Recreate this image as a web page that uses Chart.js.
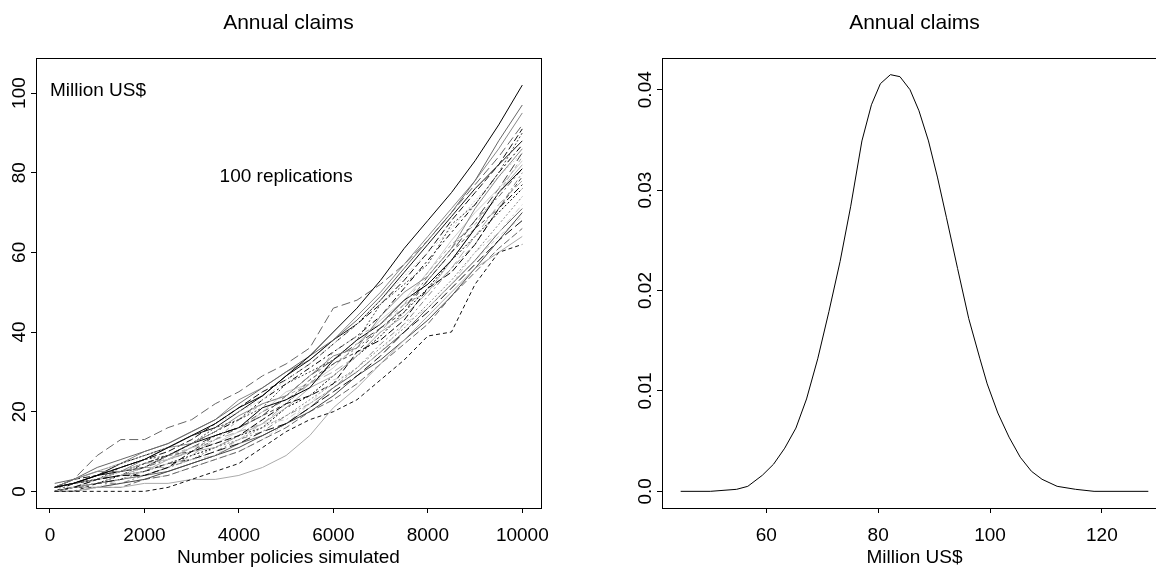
<!DOCTYPE html>
<html>
<head>
<meta charset="utf-8">
<script src="https://cdn.jsdelivr.net/npm/chart.js@4"></script>
<style>
  html, body { margin: 0; padding: 0; background: #fff; overflow: hidden; width: 1156px; height: 569px; }
  canvas { position: absolute; top: 0; }
  #left { left: 0; }
  #right { left: 578px; }
</style>
</head>
<body>
<canvas id="left" width="578" height="569"></canvas>
<canvas id="right" width="600" height="569"></canvas>
<script>
// left panel: cumulative claims, every 500 policies
const policies = [100, 500, 1000, 1500, 2000, 2500, 3000, 3500, 4000, 4500, 5000,
  5500, 6000, 6500, 7000, 7500, 8000, 8500, 9000, 9500, 10000];

const replications = [
  [1, 2, 4, 6, 8, 11, 14, 17, 21, 24, 29, 34, 40, 46, 53, 61, 68, 75, 83, 92, 102],
  [1, 3, 9, 13, 13, 16, 18, 22, 25, 29, 32, 36, 46, 48, 52, 57, 63, 70, 77, 84, 92],
  [0, 0, 0, 0, 0, 1, 3, 5, 7, 11, 15, 18, 20, 23, 28, 33, 39, 40, 52, 60, 62],
  [0, 0, 1, 1, 2, 2, 3, 3, 4, 6, 9, 14, 21, 26, 32, 38, 44, 50, 56, 60, 64],
  [1, 2, 3, 6, 8, 9, 12, 16, 18, 21, 27, 30, 33, 38, 47, 52, 57, 67, 72, 80, 90],
  [0, 1, 1, 3, 5, 7, 8, 9, 13, 17, 18, 22, 28, 30, 35, 42, 46, 52, 60, 65, 72],
  [1, 3, 5, 5, 8, 11, 12, 15, 19, 22, 24, 29, 34, 36, 44, 50, 54, 61, 71, 79, 86],
  [0, 1, 3, 4, 4, 6, 10, 12, 14, 18, 22, 24, 27, 35, 38, 43, 51, 55, 62, 71, 77],
  [2, 3, 6, 8, 10, 12, 15, 18, 22, 26, 30, 34, 38, 43, 49, 56, 63, 70, 78, 88, 97],
  [0, 0, 2, 3, 5, 7, 8, 10, 12, 15, 17, 21, 25, 29, 34, 40, 45, 51, 57, 63, 68],
  [1, 2, 3, 5, 6, 9, 11, 13, 18, 22, 24, 27, 35, 39, 42, 47, 55, 62, 67, 75, 84],
  [0, 1, 1, 2, 3, 5, 7, 9, 11, 14, 17, 20, 24, 29, 33, 38, 43, 49, 56, 63, 70],
  [1, 3, 5, 7, 9, 11, 14, 17, 20, 23, 28, 32, 37, 42, 48, 54, 60, 66, 73, 79, 85],
  [0, 1, 2, 2, 4, 6, 8, 10, 13, 15, 19, 22, 26, 31, 37, 42, 49, 56, 62, 71, 80],
  [1, 2, 4, 5, 6, 9, 12, 14, 16, 21, 23, 26, 33, 38, 42, 48, 52, 58, 66, 75, 81],
  [0, 0, 1, 1, 3, 4, 6, 8, 10, 13, 16, 20, 23, 27, 32, 37, 42, 49, 55, 61, 66],
  [1, 2, 4, 7, 9, 11, 14, 16, 20, 24, 29, 33, 38, 42, 48, 55, 62, 69, 76, 82, 88],
  [0, 1, 2, 4, 6, 6, 9, 13, 15, 17, 22, 27, 30, 34, 40, 47, 50, 56, 64, 72, 78],
  [1, 2, 3, 4, 7, 9, 10, 14, 16, 19, 22, 28, 32, 35, 41, 45, 53, 60, 66, 71, 79],
  [0, 1, 3, 5, 7, 8, 11, 12, 15, 20, 25, 27, 31, 37, 43, 48, 55, 63, 70, 76, 83],
  [1, 1, 2, 3, 4, 6, 8, 11, 13, 16, 19, 23, 27, 31, 36, 41, 47, 53, 60, 67, 74],
  [0, 2, 3, 5, 7, 9, 12, 15, 18, 23, 27, 31, 35, 39, 44, 51, 58, 65, 72, 80, 87],
  [0, 1, 2, 3, 4, 5, 7, 9, 12, 14, 17, 21, 26, 30, 35, 40, 46, 52, 58, 65, 71],
  [1, 3, 4, 6, 8, 10, 13, 17, 21, 25, 28, 32, 37, 42, 47, 53, 60, 68, 75, 82, 91],
  [0, 1, 3, 4, 5, 8, 10, 11, 14, 17, 21, 26, 29, 34, 40, 44, 50, 58, 66, 75, 82],
  [1, 2, 3, 5, 7, 8, 11, 14, 16, 19, 24, 29, 33, 37, 41, 46, 53, 60, 68, 76, 85],
  [0, 0, 1, 2, 3, 4, 6, 8, 10, 13, 17, 22, 26, 30, 35, 40, 46, 52, 58, 64, 69],
  [1, 3, 5, 7, 10, 12, 15, 18, 23, 26, 30, 33, 38, 44, 50, 57, 64, 71, 78, 86, 95],
  [0, 1, 2, 4, 5, 7, 9, 11, 14, 16, 21, 24, 29, 34, 39, 45, 51, 58, 64, 70, 76],
  [1, 2, 3, 4, 6, 8, 10, 13, 16, 20, 23, 27, 32, 36, 41, 46, 54, 61, 68, 74, 81]
];

const leftXTicks = [0, 2000, 4000, 6000, 8000, 10000];
const leftYTicks = [0, 20, 40, 60, 80, 100];

// right panel: density of annual claims
const claimAmount = [44.7, 50, 54.7, 56.7, 59.3, 61.3, 63.3, 65.3, 67.2, 69.2, 71.2, 73.2,
  75.1, 77.1, 78.8, 80.4, 82.2, 83.9, 85.7, 87.3, 89.0, 90.6, 92.2, 94.2, 96.2, 98.2,
  99.5, 101.4, 103.4, 105.4, 107.4, 109.3, 112.0, 115.3, 118.6, 128.3];
const claimDensity = [0, 0, 0.0002, 0.0005, 0.0016, 0.0027, 0.0043, 0.0063, 0.0092, 0.0132,
  0.0179, 0.0229, 0.0284, 0.0349, 0.0385, 0.0406, 0.0415, 0.0413, 0.0400, 0.0379, 0.0349,
  0.0313, 0.0273, 0.0222, 0.0172, 0.0132, 0.0107, 0.0078, 0.0054, 0.0034, 0.0020, 0.0012,
  0.0005, 0.0002, 0, 0];

const rightXTicks = [60, 80, 100, 120];
const rightYTicks = [0, 0.01, 0.02, 0.03, 0.04];
const rightYLabels = ['0.0', '0.01', '0.02', '0.03', '0.04'];

const lineGreys = ['#000000', '#666666', '#111111', '#aaaaaa', '#444444', '#cccccc', '#888888'];
const lineDashes = [[], [9, 4], [4, 3], [], [2, 2], [6, 3, 2, 3], [], [7, 3]];

const FONT = '"Liberation Sans", Arial, sans-serif';

function boxAndText(cfg) {
  return {
    id: 'boxAndText',
    afterDraw(chart) {
      const ctx = chart.ctx;
      const a = chart.chartArea;
      const x = chart.scales.x, y = chart.scales.y;
      ctx.save();
      ctx.strokeStyle = '#000';
      ctx.lineWidth = 1;
      ctx.strokeRect(Math.round(a.left) + 0.5, Math.round(a.top) + 0.5,
        Math.round(a.right - a.left), Math.round(a.bottom - a.top));
      ctx.fillStyle = '#000';
      ctx.textAlign = 'center';
      ctx.textBaseline = 'middle';
      ctx.font = '21px ' + FONT;
      ctx.fillText(cfg.title, (a.left + a.right) / 2, 23);
      ctx.font = '19px ' + FONT;
      cfg.xTicks.forEach((v, i) => ctx.fillText(cfg.xLabels[i], x.getPixelForValue(v), 536));
      ctx.fillText(cfg.xTitle, (a.left + a.right) / 2, 558);
      cfg.yTicks.forEach((v, i) => {
        ctx.save();
        ctx.translate(a.left - 16, y.getPixelForValue(v));
        ctx.rotate(-Math.PI / 2);
        ctx.fillText(cfg.yLabels[i], 0, 0);
        ctx.restore();
      });
      (cfg.notes || []).forEach(n => {
        ctx.textAlign = n.align;
        ctx.fillText(n.text, x.getPixelForValue(n.x), y.getPixelForValue(n.y));
      });
      ctx.restore();
    }
  };
}

function axis(min, max, ticks, size, isX) {
  return {
    type: 'linear',
    min: min,
    max: max,
    border: { display: false },
    grid: { drawOnChartArea: false, drawTicks: true, tickLength: 5, color: '#000', lineWidth: 1 },
    ticks: { display: false },
    afterBuildTicks: s => { s.ticks = ticks.map(v => ({ value: v })); },
    afterFit: s => { if (isX) s.height = size; else s.width = size; }
  };
}

new Chart(document.getElementById('left'), {
  type: 'line',
  data: {
    datasets: replications.map((vals, i) => ({
      data: vals.map((v, j) => ({ x: policies[j], y: v })),
      borderColor: lineGreys[i % lineGreys.length],
      borderDash: lineDashes[i % lineDashes.length],
      borderWidth: 1,
      pointRadius: 0,
      tension: 0,
      fill: false
    }))
  },
  options: {
    responsive: false,
    animation: false,
    devicePixelRatio: 1,
    layout: { padding: { left: 0, top: 58, right: 37, bottom: 0 } },
    plugins: { legend: { display: false }, tooltip: { enabled: false } },
    scales: {
      x: axis(-296, 10396, leftXTicks, 61, true),
      y: axis(-4.18, 108.8, leftYTicks, 36, false)
    }
  },
  plugins: [boxAndText({
    title: 'Annual claims',
    xTitle: 'Number policies simulated',
    xTicks: leftXTicks, xLabels: leftXTicks.map(String),
    yTicks: leftYTicks, yLabels: leftYTicks.map(String),
    notes: [
      { text: 'Million US$', x: 0, y: 100.5, align: 'left' },
      { text: '100 replications', x: 5000, y: 79, align: 'center' }
    ]
  })]
});

new Chart(document.getElementById('right'), {
  type: 'line',
  data: {
    datasets: [{
      data: claimAmount.map((v, i) => ({ x: v, y: claimDensity[i] })),
      borderColor: '#000',
      borderWidth: 1,
      pointRadius: 0,
      tension: 0,
      fill: false
    }]
  },
  options: {
    responsive: false,
    animation: false,
    devicePixelRatio: 1,
    layout: { padding: { left: 0, top: 58, right: 11, bottom: 0 } },
    plugins: { legend: { display: false }, tooltip: { enabled: false } },
    scales: {
      x: axis(41.36, 131.64, rightXTicks, 61, true),
      y: axis(-0.00166, 0.04316, rightYTicks, 84, false)
    }
  },
  plugins: [boxAndText({
    title: 'Annual claims',
    xTitle: 'Million US$',
    xTicks: rightXTicks, xLabels: rightXTicks.map(String),
    yTicks: rightYTicks, yLabels: rightYLabels
  })]
});
</script>
</body>
</html>
